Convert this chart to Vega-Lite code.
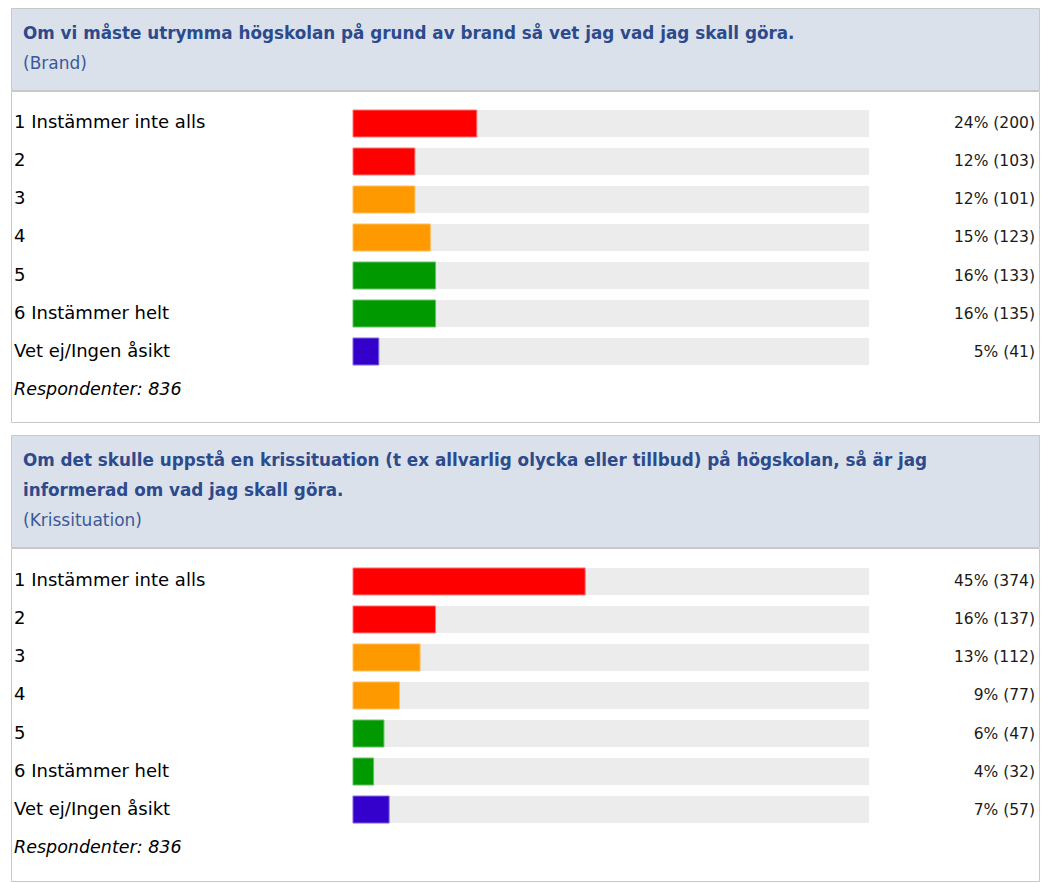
{
  "$schema": "https://vega.github.io/schema/vega-lite/v6.json",
  "padding": {"left": 10, "top": 7, "right": 3, "bottom": 0},
  "background": "white",
  "config": {"view": {"stroke": null}, "concat": {"spacing": 0}},
  "datasets": {
    "brand": [
      {"row": "1 Instämmer inte alls", "pct": 24, "n": 200, "label": "24% (200)", "color": "#ff0000", "border": "#ff7777"},
      {"row": "2", "pct": 12, "n": 103, "label": "12% (103)", "color": "#ff0000", "border": "#ff7777"},
      {"row": "3", "pct": 12, "n": 101, "label": "12% (101)", "color": "#ff9900", "border": "#ffc066"},
      {"row": "4", "pct": 15, "n": 123, "label": "15% (123)", "color": "#ff9900", "border": "#ffc066"},
      {"row": "5", "pct": 16, "n": 133, "label": "16% (133)", "color": "#009900", "border": "#66c266"},
      {"row": "6 Instämmer helt", "pct": 16, "n": 135, "label": "16% (135)", "color": "#009900", "border": "#66c266"},
      {"row": "Vet ej/Ingen åsikt", "pct": 5, "n": 41, "label": "5% (41)", "color": "#3300cc", "border": "#8466e0"}
    ],
    "kris": [
      {"row": "1 Instämmer inte alls", "pct": 45, "n": 374, "label": "45% (374)", "color": "#ff0000", "border": "#ff7777"},
      {"row": "2", "pct": 16, "n": 137, "label": "16% (137)", "color": "#ff0000", "border": "#ff7777"},
      {"row": "3", "pct": 13, "n": 112, "label": "13% (112)", "color": "#ff9900", "border": "#ffc066"},
      {"row": "4", "pct": 9, "n": 77, "label": "9% (77)", "color": "#ff9900", "border": "#ffc066"},
      {"row": "5", "pct": 6, "n": 47, "label": "6% (47)", "color": "#009900", "border": "#66c266"},
      {"row": "6 Instämmer helt", "pct": 4, "n": 32, "label": "4% (32)", "color": "#009900", "border": "#66c266"},
      {"row": "Vet ej/Ingen åsikt", "pct": 7, "n": 57, "label": "7% (57)", "color": "#3300cc", "border": "#8466e0"}
    ],
    "resp": [{"row": "Respondenter", "text": "Respondenter: 836"}],
    "head1": [
      {"line": "a", "text": "Om vi måste utrymma högskolan på grund av brand så vet jag vad jag skall göra.", "kind": "title"},
      {"line": "b", "text": "(Brand)", "kind": "sub"}
    ],
    "head2": [
      {"line": "a", "text": "Om det skulle uppstå en krissituation (t ex allvarlig olycka eller tillbud) på högskolan, så är jag", "kind": "title"},
      {"line": "b", "text": "informerad om vad jag skall göra.", "kind": "title"},
      {"line": "c", "text": "(Krissituation)", "kind": "sub"}
    ]
  },
  "vconcat": [
    {
      "spacing": -2,
      "vconcat": [
        {
          "width": 1028, "height": 82,
          "view": {"fill": "#dbe1eb", "stroke": "#c8c8c8", "strokeWidth": 1},
          "data": {"name": "head1"},
          "encoding": {
            "x": {"datum": -63.95, "type": "quantitative", "scale": {"domain": [-66.279, 132.946], "nice": false, "zero": false}, "axis": null},
            "y": {"field": "line", "type": "ordinal", "scale": {"type": "point", "domain": ["a", "b"], "padding": 0.867}, "axis": null},
            "text": {"field": "text"}
          },
          "layer": [
            {
              "transform": [{"filter": "datum.kind === 'title'"}],
              "mark": {"type": "text", "align": "left", "baseline": "middle", "font": "DejaVu Sans", "fontSize": 16.8, "fontWeight": "bold", "color": "#2c4a8c"}
            },
            {
              "transform": [{"filter": "datum.kind === 'sub'"}],
              "mark": {"type": "text", "align": "left", "baseline": "middle", "font": "DejaVu Sans", "fontSize": 17, "color": "#3b5998"}
            }
          ]
        },
        {
          "width": 1028, "height": 331,
          "view": {"fill": "white", "stroke": "#c8c8c8", "strokeWidth": 1},
          "encoding": {
            "y": {"field": "row", "type": "ordinal", "scale": {"type": "point", "domain": ["1 Instämmer inte alls", "2", "3", "4", "5", "6 Instämmer helt", "Vet ej/Ingen åsikt", "Respondenter"], "padding": 0.855}, "axis": null}
          },
          "layer": [
            {
              "data": {"name": "brand"},
              "mark": {"type": "bar", "size": 27, "color": "#ececec"},
              "encoding": {
                "x": {"datum": 0, "type": "quantitative", "scale": {"domain": [-66.279, 132.946], "nice": false, "zero": false}, "axis": null},
                "x2": {"datum": 100}
              }
            },
            {
              "data": {"name": "brand"},
              "mark": {"type": "bar", "size": 27, "strokeWidth": 1},
              "encoding": {
                "x": {"field": "pct", "type": "quantitative", "axis": null},
                "x2": {"datum": 0},
                "fill": {"field": "color", "type": "nominal", "scale": null},
                "stroke": {"field": "border", "type": "nominal", "scale": null}
              }
            },
            {
              "data": {"name": "brand"},
              "mark": {"type": "text", "align": "left", "baseline": "middle", "font": "DejaVu Sans", "fontSize": 18, "color": "#000000"},
              "encoding": {
                "x": {"datum": -65.7, "type": "quantitative"},
                "text": {"field": "row"}
              }
            },
            {
              "data": {"name": "brand"},
              "mark": {"type": "text", "align": "right", "baseline": "middle", "font": "DejaVu Sans", "fontSize": 15.5, "color": "#1a1a1a"},
              "encoding": {
                "x": {"datum": 132.17, "type": "quantitative"},
                "text": {"field": "label"}
              }
            },
            {
              "data": {"name": "resp"},
              "mark": {"type": "text", "align": "left", "baseline": "middle", "font": "DejaVu Sans", "fontSize": 17.5, "fontStyle": "italic", "color": "#000000"},
              "encoding": {
                "x": {"datum": -65.7, "type": "quantitative"},
                "text": {"field": "text"}
              }
            }
          ]
        }
      ]
    },
    {
      "spacing": -2,
      "vconcat": [
        {
          "width": 1028, "height": 112,
          "view": {"fill": "#dbe1eb", "stroke": "#c8c8c8", "strokeWidth": 1},
          "data": {"name": "head2"},
          "encoding": {
            "x": {"datum": -63.95, "type": "quantitative", "scale": {"domain": [-66.279, 132.946], "nice": false, "zero": false}, "axis": null},
            "y": {"field": "line", "type": "ordinal", "scale": {"type": "point", "domain": ["a", "b", "c"], "padding": 0.867}, "axis": null},
            "text": {"field": "text"}
          },
          "layer": [
            {
              "transform": [{"filter": "datum.kind === 'title'"}],
              "mark": {"type": "text", "align": "left", "baseline": "middle", "font": "DejaVu Sans", "fontSize": 16.8, "fontWeight": "bold", "color": "#2c4a8c"}
            },
            {
              "transform": [{"filter": "datum.kind === 'sub'"}],
              "mark": {"type": "text", "align": "left", "baseline": "middle", "font": "DejaVu Sans", "fontSize": 17, "color": "#3b5998"}
            }
          ]
        },
        {
          "width": 1028, "height": 333,
          "view": {"fill": "white", "stroke": "#c8c8c8", "strokeWidth": 1},
          "encoding": {
            "y": {"field": "row", "type": "ordinal", "scale": {"type": "point", "domain": ["1 Instämmer inte alls", "2", "3", "4", "5", "6 Instämmer helt", "Vet ej/Ingen åsikt", "Respondenter"], "padding": 0.88}, "axis": null}
          },
          "layer": [
            {
              "data": {"name": "kris"},
              "mark": {"type": "bar", "size": 27, "color": "#ececec"},
              "encoding": {
                "x": {"datum": 0, "type": "quantitative", "scale": {"domain": [-66.279, 132.946], "nice": false, "zero": false}, "axis": null},
                "x2": {"datum": 100}
              }
            },
            {
              "data": {"name": "kris"},
              "mark": {"type": "bar", "size": 27, "strokeWidth": 1},
              "encoding": {
                "x": {"field": "pct", "type": "quantitative", "axis": null},
                "x2": {"datum": 0},
                "fill": {"field": "color", "type": "nominal", "scale": null},
                "stroke": {"field": "border", "type": "nominal", "scale": null}
              }
            },
            {
              "data": {"name": "kris"},
              "mark": {"type": "text", "align": "left", "baseline": "middle", "font": "DejaVu Sans", "fontSize": 18, "color": "#000000"},
              "encoding": {
                "x": {"datum": -65.7, "type": "quantitative"},
                "text": {"field": "row"}
              }
            },
            {
              "data": {"name": "kris"},
              "mark": {"type": "text", "align": "right", "baseline": "middle", "font": "DejaVu Sans", "fontSize": 15.5, "color": "#1a1a1a"},
              "encoding": {
                "x": {"datum": 132.17, "type": "quantitative"},
                "text": {"field": "label"}
              }
            },
            {
              "data": {"name": "resp"},
              "mark": {"type": "text", "align": "left", "baseline": "middle", "font": "DejaVu Sans", "fontSize": 17.5, "fontStyle": "italic", "color": "#000000"},
              "encoding": {
                "x": {"datum": -65.7, "type": "quantitative"},
                "text": {"field": "text"}
              }
            }
          ]
        }
      ]
    }
  ],
  "spacing": 11
}
